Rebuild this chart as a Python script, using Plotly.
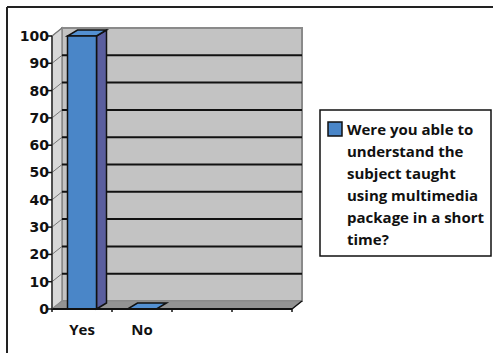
import plotly.graph_objects as go

# ---------------- data ----------------
categories = ["Yes", "No"]
values = [100, 0]
n_slots = 4  # the category axis has 4 slots, the last two empty
y_ticks = [0, 10, 20, 30, 40, 50, 60, 70, 80, 90, 100]
series_name = ("Were you able to understand the subject taught "
               "using multimedia package in a short time?")
legend_lines = ["Were you able to", "understand the", "subject taught",
                "using multimedia", "package in a short", "time?"]

# ---------------- geometry (pixels) ----------------
FIG_W, FIG_H = 493, 353
AX_X0 = 52          # pixel x where category axis starts
SLOT = 60           # pixel width of one category slot
Y0 = 309            # pixel y of value 0
PPU = 2.73          # pixels per value unit
PLOT_L, PLOT_R, PLOT_T, PLOT_B = 47, 306, 26, 313

def xd(px):  # pixel x -> data x
    return -0.5 + (px - AX_X0) / SLOT

def xp(px):  # pixel x -> paper x
    return (px - PLOT_L) / (PLOT_R - PLOT_L)

def yp(py):  # pixel y -> paper y
    return (PLOT_B - py) / (PLOT_B - PLOT_T)

xmin, xmax = xd(PLOT_L), xd(PLOT_R)
ymin, ymax = (Y0 - PLOT_B) / PPU, (Y0 - PLOT_T) / PPU

DX, DY = 10 / SLOT, 8 / PPU      # wall depth
BDX, BDY = 10 / SLOT, 6 / PPU    # bar depth
BAR_W = 29 / SLOT
vmax = y_ticks[-1]
left, right = -0.5, n_slots - 0.5

FRONT = "#4a86c8"
SIDE = "#5a5e9e"
TOP = "#5390d2"
WALL = "#c3c3c3"
SIDEWALL = "#d8d8d8"
FLOOR = "#939393"
EDGE = "#8a8a8a"

def path(pts):
    return "M " + " L ".join(f"{x},{y}" for x, y in pts) + " Z"

shapes = []
# back wall
shapes.append(dict(type="path", layer="below", xref="x", yref="y",
                   path=path([(left + DX, DY), (right + DX, DY),
                              (right + DX, vmax + DY), (left + DX, vmax + DY)]),
                   fillcolor=WALL, line=dict(color=EDGE, width=2)))
# side wall
shapes.append(dict(type="path", layer="below", xref="x", yref="y",
                   path=path([(left, 0), (left + DX, DY),
                              (left + DX, vmax + DY), (left, vmax)]),
                   fillcolor=SIDEWALL, line=dict(color=EDGE, width=1.5)))
# floor
shapes.append(dict(type="path", layer="below", xref="x", yref="y",
                   path=path([(left, 0), (right, 0), (right + DX, DY), (left + DX, DY)]),
                   fillcolor=FLOOR, line=dict(color=EDGE, width=1)))
# gridlines on back wall and side wall
for v in y_ticks[1:-1]:
    shapes.append(dict(type="line", layer="below", xref="x", yref="y",
                       x0=left + DX, x1=right + DX, y0=v + DY, y1=v + DY,
                       line=dict(color="#111111", width=2)))
for v in y_ticks[1:]:
    shapes.append(dict(type="line", layer="below", xref="x", yref="y",
                       x0=left, x1=left + DX, y0=v, y1=v + DY,
                       line=dict(color="#777777", width=1)))
# 3D faces of the bars
for i, v in enumerate(values):
    x0, x1 = i - BAR_W / 2, i + BAR_W / 2
    if v > 0:
        shapes.append(dict(type="path", layer="below", xref="x", yref="y",
                           path=path([(x1, 0), (x1 + BDX, BDY), (x1 + BDX, v + BDY), (x1, v)]),
                           fillcolor=SIDE, line=dict(color="#111111", width=1.5)))
    shapes.append(dict(type="path", layer="below", xref="x", yref="y",
                       path=path([(x0, v), (x1, v), (x1 + BDX, v + BDY), (x0 + BDX, v + BDY)]),
                       fillcolor=TOP, line=dict(color="#111111", width=1.5)))
# axes lines
shapes.append(dict(type="line", layer="above", xref="x", yref="y",
                   x0=left, x1=right, y0=0, y1=0, line=dict(color="#111111", width=2)))
shapes.append(dict(type="line", layer="above", xref="x", yref="y",
                   x0=right, x1=right + DX, y0=0, y1=DY, line=dict(color="#111111", width=1.5)))
shapes.append(dict(type="line", layer="above", xref="x", yref="y",
                   x0=left, x1=left, y0=0, y1=vmax, line=dict(color="#333333", width=1.5)))
# y ticks
for v in y_ticks:
    shapes.append(dict(type="line", layer="above", xref="x", yref="y",
                       x0=left - 5 / SLOT, x1=left, y0=v, y1=v,
                       line=dict(color="#111111", width=1.5)))
# x ticks at slot boundaries
for k in range(n_slots + 1):
    shapes.append(dict(type="line", layer="above", xref="x", yref="y",
                       x0=left + k, x1=left + k, y0=0, y1=-3 / PPU,
                       line=dict(color="#111111", width=1.5)))

# outer chart frame (top and left edges visible)
shapes.append(dict(type="line", xref="paper", yref="paper",
                   x0=xp(7), x1=xp(FIG_W + 5), y0=yp(7), y1=yp(7),
                   line=dict(color="#222222", width=2)))
shapes.append(dict(type="line", xref="paper", yref="paper",
                   x0=xp(7), x1=xp(7), y0=yp(7), y1=yp(FIG_H + 5),
                   line=dict(color="#222222", width=2)))
# legend box and key
shapes.append(dict(type="rect", xref="paper", yref="paper",
                   x0=xp(320), x1=xp(491), y0=yp(110), y1=yp(256),
                   line=dict(color="#111111", width=1.5), fillcolor="rgba(0,0,0,0)"))
shapes.append(dict(type="rect", xref="paper", yref="paper",
                   x0=xp(328), x1=xp(342), y0=yp(122), y1=yp(136),
                   line=dict(color="#111111", width=1.5), fillcolor=FRONT))

annotations = []
LEG_FONT = 15
for j, line in enumerate(legend_lines):
    baseline = 134 + 22 * j
    annotations.append(dict(xref="paper", yref="paper", x=xp(345), y=yp(baseline - 0.35 * LEG_FONT),
                            xanchor="left", yanchor="middle", showarrow=False, text=line,
                            font=dict(family="Open Sans", size=LEG_FONT, color="#111111", weight="bold")))

fig = go.Figure()
fig.add_trace(go.Bar(x=list(range(len(categories))), y=values, width=BAR_W,
                     name=series_name,
                     marker=dict(color=FRONT, line=dict(color="#111111", width=1.5)),
                     showlegend=False))

fig.update_layout(
    width=FIG_W, height=FIG_H,
    margin=dict(l=PLOT_L, r=FIG_W - PLOT_R, t=PLOT_T, b=FIG_H - PLOT_B, pad=0),
    paper_bgcolor="white", plot_bgcolor="rgba(0,0,0,0)",
    shapes=shapes, annotations=annotations, showlegend=False,
    xaxis=dict(range=[xmin, xmax], tickvals=list(range(len(categories))), ticktext=categories,
               showgrid=False, zeroline=False, showline=False, ticks="",
               tickfont=dict(family="Open Sans", size=15, color="#111111", weight="bold"),
               ticklabelstandoff=6),
    yaxis=dict(range=[ymin, ymax], tickvals=y_ticks, showgrid=False, zeroline=False,
               showline=False, ticks="",
               tickfont=dict(family="DejaVu Sans", size=14, color="#111111", weight="bold"),
               ticklabelstandoff=-3),
)

fig.write_html("out.html")
